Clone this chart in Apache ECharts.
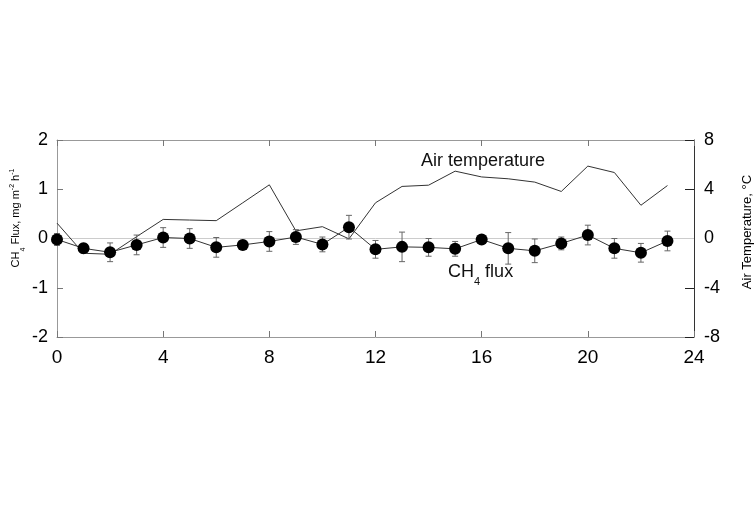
<!DOCTYPE html>
<html>
<head>
	<meta charset="utf-8">
	<title>CH4 flux and air temperature</title>
	<script src="https://cdn.jsdelivr.net/npm/echarts@6/dist/echarts.min.js"></script>
	<style>
		html, body { margin: 0; padding: 0; background: #fff; }
		#main { width: 756px; height: 521px; }
	</style>
</head>
<body>
<div id="main"></div>
<script>
	// hour of day
	var hours = [0, 1, 2, 3, 4, 5, 6, 7, 8, 9, 10, 11, 12, 13, 14, 15, 16, 17, 18, 19, 20, 21, 22, 23];
	// CH4 flux, mg m-2 h-1 (mean)
	var flux = [-0.02, -0.2, -0.28, -0.13, 0.02, 0.0, -0.18, -0.13, -0.06, 0.03, -0.12, 0.23,
		-0.22, -0.17, -0.18, -0.21, -0.02, -0.2, -0.25, -0.1, 0.07, -0.2, -0.29, -0.05];
	// error bar half length
	var fluxErr = [0.12, 0.1, 0.19, 0.2, 0.2, 0.2, 0.2, 0.05, 0.2, 0.15, 0.15, 0.24,
		0.18, 0.3, 0.18, 0.15, 0.07, 0.32, 0.24, 0.13, 0.2, 0.2, 0.19, 0.2];
	// air temperature, degC
	var temp = [1.25, -1.2, -1.28, 0.15, 1.55, 1.5, 1.45, 2.9, 4.36, 0.62, 0.96, -0.03,
		2.9, 4.23, 4.33, 5.47, 5.0, 4.85, 4.58, 3.82, 5.88, 5.36, 2.7, 4.3];

	var xTicks = [0, 4, 8, 12, 16, 20, 24];
	var leftTicks = [-2, -1, 0, 1, 2];
	var rightTicks = [-8, -4, 0, 4, 8];

	var chart = echarts.init(document.getElementById('main'));

	var font = 'Liberation Sans, Arial, sans-serif';

	var fluxData = hours.map(function(h, i) { return [h, flux[i]]; });
	var tempData = hours.map(function(h, i) { return [h, temp[i]]; });
	var errData = hours.map(function(h, i) { return [h, flux[i] - fluxErr[i], flux[i] + fluxErr[i]]; });

	function renderErr(params, api) {
		var lo = api.coord([api.value(0), api.value(1)]);
		var hi = api.coord([api.value(0), api.value(2)]);
		var w = 3;
		var st = { stroke: '#666', lineWidth: 1 };
		return {
			type: 'group',
			children: [
				{ type: 'line', shape: { x1: lo[0], y1: lo[1], x2: hi[0], y2: hi[1] }, style: st },
				{ type: 'line', shape: { x1: lo[0] - w, y1: lo[1], x2: lo[0] + w, y2: lo[1] }, style: st },
				{ type: 'line', shape: { x1: hi[0] - w, y1: hi[1], x2: hi[0] + w, y2: hi[1] }, style: st }
			]
		};
	}

	var option = {
		animation: false,
		backgroundColor: '#fff',
		grid: { left: 57, right: 62, top: 140, bottom: 184, containLabel: false, outerBoundsMode: 'none' },
		xAxis: [{
			type: 'value', min: 0, max: 24, interval: 4,
			axisLine: { onZero: false, lineStyle: { color: '#999', width: 1 } },
			axisTick: { inside: true, length: 6, lineStyle: { color: '#777' } },
			axisLabel: { color: '#000', fontSize: 19, fontFamily: font, margin: 11,
				formatter: function(v) { return xTicks.indexOf(v) >= 0 ? String(v) : ''; } },
			splitLine: { show: false }
		}, {
			type: 'value', min: 0, max: 24, interval: 4, position: 'top',
			axisLine: { onZero: false, lineStyle: { color: '#999', width: 1 } },
			axisTick: { inside: true, length: 6, lineStyle: { color: '#777' } },
			axisLabel: { show: false },
			splitLine: { show: false }
		}],
		yAxis: [{
			type: 'value', min: -2, max: 2, interval: 1,
			axisLine: { show: true, onZero: false, lineStyle: { color: '#999', width: 1 } },
			axisTick: { show: true, inside: true, length: 6, lineStyle: { color: '#777' } },
			axisLabel: { color: '#000', fontSize: 18, fontFamily: font, margin: 9,
				formatter: function(v) { return leftTicks.indexOf(v) >= 0 ? String(v) : ''; } },
			splitLine: { show: false }
		}, {
			type: 'value', min: -8, max: 8, interval: 4, position: 'right',
			axisLine: { show: true, onZero: false, lineStyle: { color: '#333', width: 1 } },
			axisTick: { show: true, inside: true, length: 9, lineStyle: { color: '#222' } },
			axisLabel: { color: '#000', fontSize: 18, fontFamily: font, margin: 10,
				formatter: function(v) { return rightTicks.indexOf(v) >= 0 ? String(v) : ''; } },
			splitLine: { show: false }
		}],
		graphic: [{
			// left axis title
			type: 'text', x: 16, y: 218, rotation: Math.PI / 2,
			style: {
				text: '{t|CH}{s|4}{t| Flux, mg m}{p|-2}{t| h}{p|-1}',
				align: 'center', verticalAlign: 'middle',
				rich: {
					t: { fontSize: 11, fontFamily: font, fill: '#000', lineHeight: 15 },
					s: { fontSize: 7, fontFamily: font, fill: '#000', lineHeight: 15, verticalAlign: 'bottom', padding: [0, 0, -3, 0] },
					p: { fontSize: 7, fontFamily: font, fill: '#000', lineHeight: 15, verticalAlign: 'top' }
				}
			}
		}, {
			// right axis title
			type: 'text', x: 747, y: 232, rotation: Math.PI / 2,
			style: {
				text: 'Air Temperature, \u00B0C', align: 'center', verticalAlign: 'middle',
				fontSize: 13, fontFamily: font, fill: '#000'
			}
		}, {
			type: 'text', x: 421, y: 161,
			style: { text: 'Air temperature', fontSize: 18, fontFamily: font, fill: '#111', verticalAlign: 'middle' }
		}, {
			type: 'text', x: 448, y: 272,
			style: {
				text: '{t|CH}{s|4}{t| flux}', verticalAlign: 'middle',
				rich: {
					t: { fontSize: 18, fontFamily: font, fill: '#111', lineHeight: 22 },
					s: { fontSize: 11, fontFamily: font, fill: '#111', lineHeight: 22, verticalAlign: 'bottom', padding: [0, 0, -4, 0] }
				}
			}
		}],
		series: [{
			type: 'line',
			yAxisIndex: 0,
			data: [[0, 0], [24, 0]],
			symbol: 'none',
			lineStyle: { color: '#ccc', width: 1 },
			silent: true,
			z: 1
		}, {
			name: 'Air temperature',
			type: 'line',
			yAxisIndex: 1,
			data: tempData,
			symbol: 'none',
			lineStyle: { color: '#333', width: 1 },
			z: 2
		}, {
			type: 'custom',
			yAxisIndex: 0,
			renderItem: renderErr,
			data: errData,
			z: 3
		}, {
			name: 'CH4 flux',
			type: 'line',
			yAxisIndex: 0,
			data: fluxData,
			symbol: 'circle',
			symbolSize: 12,
			itemStyle: { color: '#000' },
			lineStyle: { color: '#333', width: 1 },
			z: 4
		}]
	};

	chart.setOption(option);
</script>
</body>
</html>
